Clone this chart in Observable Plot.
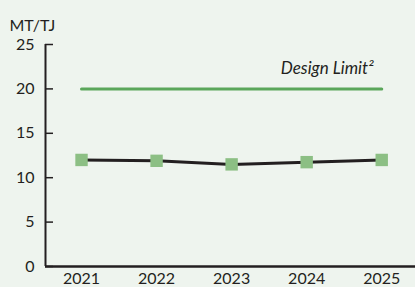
<!DOCTYPE html>
<html><head><meta charset="utf-8">
<script src="https://cdn.jsdelivr.net/npm/d3@7"></script>
<script src="https://cdn.jsdelivr.net/npm/@observablehq/plot@0.6"></script>
<style>
html,body{margin:0;padding:0;background:#eef4ee;}
</style></head>
<body><div id="chart"></div>
<script>
const years = [2021, 2022, 2023, 2024, 2025];
const values = [12.0, 11.9, 11.5, 11.75, 12.0];
const limitValue = 20;
const yTicks = [0, 5, 10, 15, 20, 25];
const unitLabel = "MT/TJ";
const limitLabel = "Design Limit²";

const data = years.map((y, i) => ({year: y, value: values[i]}));
const limit = [{year: years[0], value: limitValue}, {year: years[years.length - 1], value: limitValue}];
const xDomain = [2020.52, 2025.45];

const ink = "#231f20";
const font = "Lato, 'Noto Sans', sans-serif";

const chart = Plot.plot({
  width: 415,
  height: 287,
  marginTop: 44,
  marginLeft: 45,
  marginRight: 0,
  marginBottom: 21,
  style: {background: "#eef4ee", fontFamily: font, fontSize: "16px", color: ink},
  x: {type: "linear", domain: xDomain},
  y: {domain: [0, 25]},
  marks: [
    Plot.axisY({ticks: yTicks, tickSize: -8, tickPadding: 19, label: null, stroke: ink, strokeWidth: 1.5, fill: ink, fontSize: 16}),
    Plot.axisX({ticks: years, tickFormat: d => String(d), tickSize: 0, tickPadding: 6, label: null, fill: ink, fontSize: 16}),
    Plot.ruleX([xDomain[0]], {y1: 0, y2: 25, stroke: ink, strokeWidth: 2}),
    Plot.ruleY([0], {stroke: ink, strokeWidth: 2.5}),
    Plot.line(limit, {x: "year", y: "value", stroke: "#5aa65a", strokeWidth: 3}),
    Plot.text([limitLabel], {x: years[years.length - 1], y: limitValue, text: d => d, textAnchor: "end", dx: -8, dy: -20, fontStyle: "italic", fontSize: 17, fill: ink}),
    Plot.line(data, {x: "year", y: "value", stroke: ink, strokeWidth: 3}),
    Plot.dot(data, {x: "year", y: "value", symbol: "square", r: 7, fill: "#8cbf84", stroke: "none"}),
    Plot.text([unitLabel], {frameAnchor: "top-left", text: d => d, textAnchor: "start", dx: -36, dy: -25, fontSize: 16, fill: ink})
  ]
});
document.getElementById("chart").append(chart);
</script></body></html>
